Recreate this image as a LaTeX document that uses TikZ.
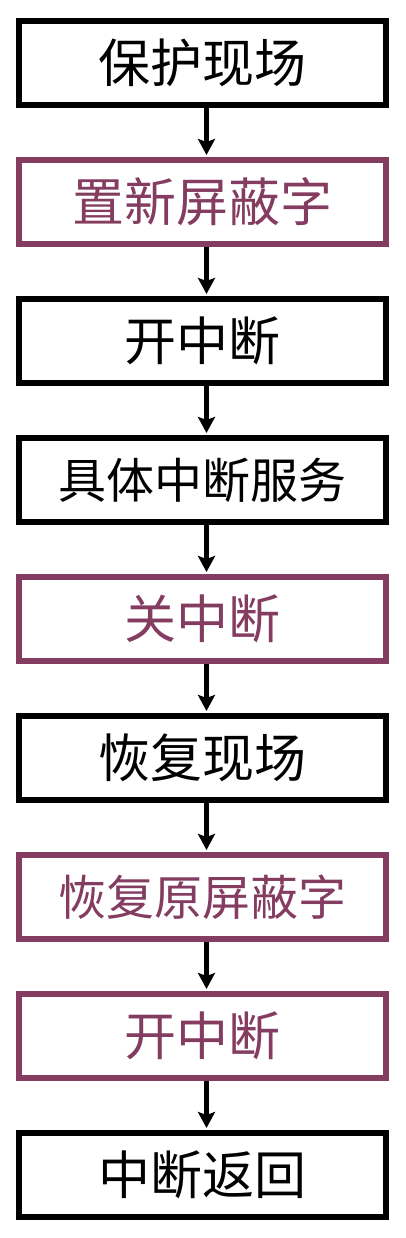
\documentclass[tikz,border=0pt]{standalone}
\usepackage{fontspec}
\newfontfamily\cjk{Noto Sans CJK SC}
\usetikzlibrary{arrows.meta}
\definecolor{maskpurple}{RGB}{132,60,96}

\begin{document}
\begin{tikzpicture}[
    x=1pt, y=1pt,
    font=\cjk\fontsize{52}{52}\selectfont,
    stepbox/.style={
        rectangle, draw, line width=6pt,
        align=center, minimum width=367pt, minimum height=84pt,
        inner sep=0pt
    },
    maskbox/.style={stepbox, draw=maskpurple, text=maskpurple},
    longtext/.style={font=\cjk\fontsize{48}{48}\selectfont},
    conn/.style={-{Stealth[length=16pt, width=17pt, inset=3pt]}, line width=5pt, shorten >=2pt},
]
    \useasboundingbox (0,0) rectangle (406,-1238);

    % Column x-coordinate and row step.
    \def\xMid{202.5}
    \def\yStep{139}

    % ---------- steps of the interrupt routine ----------
    \node[stepbox] (baohu) at (\xMid, -63) {保护现场};
    \node[maskbox] (zhixin) at (\xMid, -63-\yStep) {置新屏蔽字};
    \node[stepbox] (kai-a) at (\xMid, -63-2*\yStep) {开中断};
    \node[stepbox, longtext] (fuwu) at (\xMid, -63-3*\yStep) {具体中断服务};
    \node[maskbox] (guan) at (\xMid, -63-4*\yStep) {关中断};
    \node[stepbox] (huifu) at (\xMid, -63-5*\yStep) {恢复现场};
    \node[maskbox, longtext] (yuanpingbi) at (\xMid, -63-6*\yStep) {恢复原屏蔽字};
    \node[maskbox] (kai-b) at (\xMid, -63-7*\yStep) {开中断};
    \node[stepbox] (fanhui) at (\xMid, -63-8*\yStep) {中断返回};

    % ---------- connectors ----------
    \foreach \a/\b in {baohu/zhixin, zhixin/kai-a, kai-a/fuwu, fuwu/guan,
                       guan/huifu, huifu/yuanpingbi, yuanpingbi/kai-b, kai-b/fanhui}
        \draw[conn] ([xshift=4pt]\a.south) -- ([xshift=4pt]\b.north);

\end{tikzpicture}
\end{document}
